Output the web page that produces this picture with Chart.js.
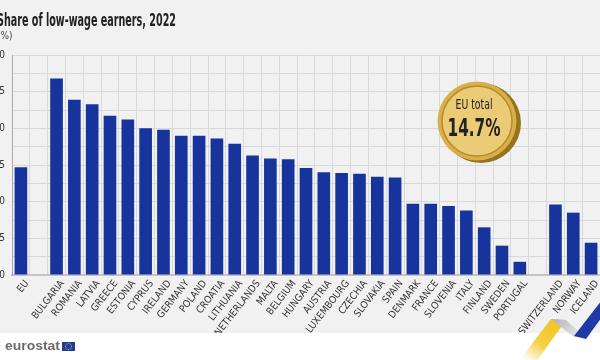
<!DOCTYPE html>
<html>
<head>
<meta charset="utf-8">
<script src="https://cdn.jsdelivr.net/npm/chart.js@4.4.1/dist/chart.umd.min.js"></script>
<style>
  html, body { margin: 0; padding: 0; background: #ffffff; }
  #wrap { position: relative; width: 600px; height: 360px; }
  canvas { display: block; }
</style>
</head>
<body>
<div id="wrap"><canvas id="c" width="600" height="360"></canvas></div>
<script>
const titleText = 'Share of low-wage earners, 2022';
const unitText = '(%)';
const categories = ['EU', '', 'BULGARIA', 'ROMANIA', 'LATVIA', 'GREECE', 'ESTONIA', 'CYPRUS', 'IRELAND',
  'GERMANY', 'POLAND', 'CROATIA', 'LITHUANIA', 'NETHERLANDS', 'MALTA', 'BELGIUM', 'HUNGARY', 'AUSTRIA',
  'LUXEMBOURG', 'CZECHIA', 'SLOVAKIA', 'SPAIN', 'DENMARK', 'FRANCE', 'SLOVENIA', 'ITALY', 'FINLAND',
  'SWEDEN', 'PORTUGAL', '', 'SWITZERLAND', 'NORWAY', 'ICELAND'];
const values = [14.7, null, 26.8, 23.9, 23.3, 21.7, 21.2, 20.0, 19.8,
  19.0, 19.0, 18.6, 17.9, 16.3, 15.9, 15.8, 14.6, 14.0,
  13.9, 13.8, 13.4, 13.3, 9.7, 9.7, 9.4, 8.8, 6.5,
  4.0, 1.8, null, 9.6, 8.5, 4.4];
const yTicks = [0, 5, 10, 15, 20, 25, 30];
const coinLabel = 'EU total';
const coinValue = '14.7%';

const FONT_C = "'Liberation Sans Narrow', 'DejaVu Sans Condensed', 'Roboto', sans-serif";

function fitText(ctx, text, x, y, targetW, align) {
  const w = ctx.measureText(text).width;
  const s = targetW / w;
  ctx.save();
  ctx.translate(x, y);
  ctx.scale(s, 1);
  ctx.textAlign = align || 'left';
  ctx.fillText(text, 0, 0);
  ctx.restore();
}

const decor = {
  id: 'decor',
  beforeDraw(chart) {
    const ctx = chart.ctx;
    ctx.save();
    ctx.fillStyle = '#ffffff';
    ctx.fillRect(0, 0, 600, 360);
    ctx.fillStyle = '#f1f1f1';
    ctx.fillRect(0, 0, 600, 333);
    ctx.fillStyle = '#222222';
    ctx.textBaseline = 'alphabetic';
    ctx.font = "bold 17px " + FONT_C;
    fitText(ctx, titleText, -3, 26, 179, 'left');
    ctx.font = "10px " + FONT_C;
    ctx.fillStyle = '#444444';
    ctx.fillText(unitText, -3, 39);
    ctx.restore();
  },
  afterDraw(chart) {
    const ctx = chart.ctx;
    ctx.save();
    // coin
    ctx.fillStyle = '#94741f';
    ctx.beginPath(); ctx.arc(481, 123, 40, 0, Math.PI * 2); ctx.fill();
    ctx.fillStyle = '#d9af4a';
    ctx.beginPath(); ctx.arc(477, 121, 39.5, 0, Math.PI * 2); ctx.fill();
    ctx.fillStyle = '#eccb76';
    ctx.beginPath(); ctx.arc(477, 121, 35, 0, Math.PI * 2); ctx.fill();
    ctx.strokeStyle = '#b68b2c';
    ctx.lineWidth = 1.5;
    ctx.stroke();
    ctx.fillStyle = '#222222';
    ctx.font = "14px " + FONT_C;
    fitText(ctx, coinLabel, 474, 109, 37, 'center');
    ctx.font = "bold 24px " + FONT_C;
    fitText(ctx, coinValue, 474, 136, 53, 'center');

    // ribbon decoration
    const g = ctx.createLinearGradient(560, 318, 528, 362);
    g.addColorStop(0, '#f4c21a');
    g.addColorStop(0.6, '#f6cf45');
    g.addColorStop(1, 'rgba(255,255,255,0.9)');
    ctx.fillStyle = g;
    ctx.beginPath();
    ctx.moveTo(518, 362); ctx.lineTo(536, 362); ctx.lineTo(566, 320); ctx.lineTo(551, 319);
    ctx.closePath(); ctx.fill();
    const gg = ctx.createLinearGradient(555, 320, 585, 338);
    gg.addColorStop(0, '#b7b7b7');
    gg.addColorStop(1, '#f0f0f0');
    ctx.fillStyle = gg;
    ctx.beginPath();
    ctx.moveTo(551, 319); ctx.lineTo(566, 320); ctx.lineTo(586, 338); ctx.lineTo(574, 337);
    ctx.closePath(); ctx.fill();
    ctx.fillStyle = '#1f3aa8';
    ctx.beginPath();
    ctx.moveTo(574, 336); ctx.lineTo(586, 339); ctx.lineTo(602, 317); ctx.lineTo(602, 300);
    ctx.closePath(); ctx.fill();

    // eurostat logo
    ctx.fillStyle = '#6a6a6a';
    ctx.font = "bold 13px 'Liberation Sans', Arial, sans-serif";
    fitText(ctx, 'eurostat', 5, 350, 55, 'left');
    ctx.fillStyle = '#1f3a9c';
    ctx.fillRect(62, 342, 13, 9);
    ctx.fillStyle = '#f2cf2a';
    for (let i = 0; i < 12; i++) {
      const a = i * Math.PI / 6;
      ctx.fillRect(68.5 + Math.cos(a) * 3 - 0.4, 346.5 + Math.sin(a) * 3 - 0.4, 0.8, 0.8);
    }
    ctx.restore();
  }
};

new Chart(document.getElementById('c'), {
  type: 'bar',
  data: {
    labels: categories,
    datasets: [{
      data: values,
      backgroundColor: '#17349d',
      borderWidth: 0,
      barPercentage: 0.71,
      categoryPercentage: 1.0
    }]
  },
  options: {
    responsive: false,
    animation: false,
    devicePixelRatio: 1,
    layout: { padding: { top: 55, left: 0, right: 0, bottom: 27 } },
    plugins: { legend: { display: false }, tooltip: { enabled: false }, title: { display: false } },
    scales: {
      x: {
        offset: true,
        grid: { display: true, offset: true, color: '#d9d9d9', lineWidth: 1, drawTicks: false },
        border: { display: true, color: '#c4c4c4', width: 2 },
        ticks: {
          autoSkip: false,
          maxRotation: 52,
          minRotation: 52,
          padding: 3,
          labelOffset: 6,
          color: '#333333',
          font: { family: FONT_C, size: 10 }
        },
        afterFit(scale) { scale.height = 58; scale.paddingLeft = 0; scale.paddingRight = 0; }
      },
      y: {
        min: 0,
        max: 30,
        afterBuildTicks(scale) {
          const t = [];
          for (let v = 0; v <= 30; v += 2.5) t.push({ value: v });
          scale.ticks = t;
        },
        grid: { color: '#d9d9d9', lineWidth: 1, drawTicks: false },
        border: { display: true, color: '#a8a8a8', width: 1 },
        ticks: {
          padding: 7,
          color: '#333333',
          font: { family: FONT_C, size: 10 },
          callback: function (v) { return yTicks.includes(v) ? String(v) : ''; }
        },
        afterFit(scale) { scale.width = 12; }
      }
    }
  },
  plugins: [decor]
});
</script>
</body>
</html>
